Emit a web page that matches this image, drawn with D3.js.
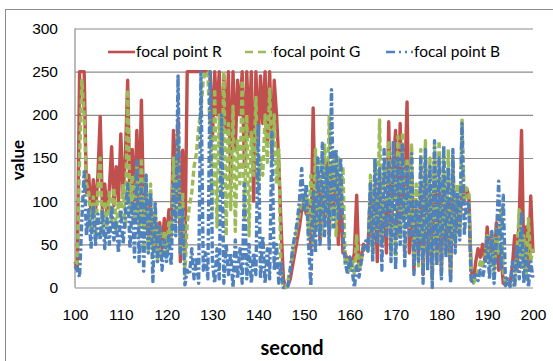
<!DOCTYPE html>
<html>
<head>
<meta charset="utf-8">
<script src="https://cdn.jsdelivr.net/npm/d3@7"></script>
<style>
  body { margin: 0; background: #fff; }
  svg { display: block; font-family: Lato, "Open Sans", sans-serif; }
</style>
</head>
<body>
<div id="chart"></div>
<script>
// seconds sampled every 0.5 s from 100 to 200
const seconds = d3.range(100, 200.25, 0.5);

const focalR = [
  30, 22, 250, 250, 250, 110, 130, 85, 125, 90,
  130, 198, 90, 120, 85, 115, 163, 95, 140, 100,
  178, 110, 150, 240, 100, 160, 95, 182, 90, 217,
  80, 120, 60, 95, 50, 85, 40, 75, 45, 80,
  55, 90, 60, 182, 100, 195, 30, 159, 40, 250,
  250, 250, 250, 250, 250, 250, 250, 250, 250, 250,
  170, 250, 200, 250, 150, 245, 180, 250, 120, 250,
  160, 240, 200, 250, 140, 250, 175, 250, 100, 250,
  165, 245, 190, 250, 170, 250, 150, 240, 200, 145,
  70, 10, 0, 2, 10, 25, 40, 55, 70, 90,
  100, 85, 95, 45, 208, 70, 130, 55, 120, 80,
  145, 60, 135, 90, 130, 50, 125, 40, 40, 30,
  35, 25, 40, 107, 20, 35, 50, 45, 50, 110,
  45, 120, 30, 130, 60, 100, 40, 192, 50, 140,
  182, 60, 190, 80, 120, 215, 40, 130, 20, 90,
  40, 120, 15, 140, 30, 110, 10, 150, 35, 120,
  20, 130, 45, 100, 10, 140, 55, 100, 70, 115,
  100, 115, 105, 20, 8, 30, 45, 35, 50, 30,
  70, 40, 60, 30, 75, 20, 40, 5, 3, 5,
  3, 25, 60, 20, 80, 182, 30, 70, 20, 106,
  40
];

const focalG = [
  30, 28, 150, 240, 200, 120, 110, 65, 105, 60,
  115, 150, 60, 100, 70, 110, 75, 115, 65, 100,
  80, 120, 70, 229, 90, 130, 80, 140, 60, 150,
  50, 130, 40, 120, 35, 90, 30, 70, 35, 65,
  40, 75, 50, 150, 80, 180, 40, 110, 15, 75,
  95, 110, 140, 155, 185, 205, 240, 250, 250, 180,
  90, 230, 70, 200, 110, 250, 60, 190, 90, 210,
  65, 170, 120, 240, 80, 200, 60, 180, 130, 220,
  110, 150, 130, 200, 145, 230, 150, 200, 120, 160,
  10, 0, 0, 8, 22, 38, 55, 70, 85, 110,
  95, 120, 60, 130, 50, 160, 70, 150, 60, 165,
  80, 198, 70, 160, 60, 150, 90, 140, 25, 35,
  20, 30, 15, 60, 20, 30, 45, 50, 40, 130,
  40, 150, 60, 194, 50, 140, 70, 170, 40, 160,
  30, 175, 60, 180, 40, 150, 70, 165, 30, 120,
  25, 160, 20, 170, 40, 150, 10, 165, 30, 170,
  15, 155, 40, 160, 20, 150, 50, 120, 60, 196,
  100, 115, 110, 15, 5, 10, 20, 30, 25, 35,
  60, 20, 65, 15, 70, 40, 90, 20, 5, 3,
  3, 3, 3, 40, 90, 20, 60, 10, 80, 30,
  45
];

const focalB = [
  25, 20, 12, 80, 134, 60, 90, 45, 95, 50,
  85, 55, 90, 45, 80, 50, 95, 55, 75, 40,
  90, 50, 85, 120, 45, 100, 35, 147, 30, 120,
  19, 130, 40, 110, 7, 100, 30, 70, 20, 55,
  30, 60, 25, 120, 60, 245, 40, 90, 3, 20,
  15, 45, 10, 35, 5, 250, 20, 40, 10, 250,
  30, 5, 45, 10, 200, 5, 50, 15, 40, 0,
  55, 10, 45, 5, 120, 10, 50, 5, 40, 15,
  190, 10, 60, 5, 45, 10, 180, 20, 50, 5,
  30, 0, 0, 2, 20, 45, 60, 75, 100, 138,
  90, 120, 50, 2, 110, 40, 150, 50, 167, 60,
  140, 45, 229, 70, 160, 80, 150, 60, 30, 15,
  35, 20, 0, 25, 12, 30, 45, 54, 42, 120,
  30, 150, 50, 140, 20, 160, 60, 145, 30, 170,
  20, 150, 50, 165, 25, 140, 60, 155, 15, 100,
  30, 150, 5, 160, 20, 140, 0, 170, 25, 150,
  10, 165, 35, 140, 5, 160, 40, 110, 55, 190,
  60, 100, 95, 5, 10, 15, 8, 20, 12, 25,
  60, 10, 65, 5, 55, 123, 20, 107, 2, 10,
  1, 30, 0, 50, 10, 88, 5, 45, 0, 30,
  10
];

const seriesNames = ['focal point R', 'focal point G', 'focal point B'];
const xTicks = [100, 110, 120, 130, 140, 150, 160, 170, 180, 190, 200];
const yTicks = [0, 50, 100, 150, 200, 250, 300];

const width = 553, height = 361;
const plot = {left: 75, right: 533, top: 28.5, bottom: 287.5};

const svg = d3.select('#chart').append('svg')
  .attr('width', width)
  .attr('height', height);

svg.append('rect')
  .attr('width', width).attr('height', height)
  .attr('fill', '#fff');

// outer chart frame
svg.append('rect')
  .attr('x', 5.5).attr('y', 9.5)
  .attr('width', 600).attr('height', 400)
  .attr('fill', 'none')
  .attr('stroke', '#8c8c8c');

const x = d3.scaleLinear().domain([100, 200]).range([plot.left, plot.right]);
const y = d3.scaleLinear().domain([0, 300]).range([plot.bottom, plot.top]);

// gridlines + y labels
const yAxis = svg.append('g')
  .attr('transform', 'translate(' + plot.left + ',0)')
  .call(d3.axisLeft(y).tickValues(yTicks)
    .tickSize(-(plot.right - plot.left)).tickPadding(17));
yAxis.select('.domain').remove();
yAxis.selectAll('line').attr('stroke', '#8c8c8c').attr('stroke-width', 1.2);
yAxis.selectAll('text')
  .attr('fill', '#000').style('font-size', '15.5px');

const xAxis = svg.append('g')
  .attr('transform', 'translate(0,' + plot.bottom + ')')
  .call(d3.axisBottom(x).tickValues(xTicks).tickSize(0).tickPadding(21));
xAxis.select('.domain').remove();
xAxis.selectAll('text')
  .attr('fill', '#000').style('font-size', '15.5px');

svg.append('line')
  .attr('x1', plot.left).attr('x2', plot.left)
  .attr('y1', plot.top).attr('y2', plot.bottom)
  .attr('stroke', '#8c8c8c').attr('stroke-width', 1.2);

const series = [
  {name: seriesNames[0], values: focalR, color: '#C0504D', dash: null},
  {name: seriesNames[1], values: focalG, color: '#9BBB59', dash: '6,3'},
  {name: seriesNames[2], values: focalB, color: '#4F81BD', dash: '7,2.5,2.5,2.5'}
];

const line = d3.line()
  .x((d, i) => x(seconds[i]))
  .y(d => y(d));

svg.append('g').selectAll('path')
  .data(series)
  .enter().append('path')
  .attr('d', d => line(d.values))
  .attr('fill', 'none')
  .attr('stroke', d => d.color)
  .attr('stroke-width', 3.4)
  .attr('stroke-linejoin', 'round')
  .attr('stroke-dasharray', d => d.dash);

// legend
const legendX = [108, 245, 386];
const legend = svg.append('g').selectAll('g')
  .data(series)
  .enter().append('g')
  .attr('transform', (d, i) => 'translate(' + legendX[i] + ',52)');

legend.append('line')
  .attr('x1', 0).attr('x2', 27)
  .attr('stroke', d => d.color)
  .attr('stroke-width', 2.6)
  .attr('stroke-dasharray', d => d.dash === null ? null : (d.dash === '6,3' ? '8,5' : '9,4,2,4,2,4'));

legend.append('text')
  .attr('x', 28)
  .attr('dy', '0.35em')
  .style('font-size', '15.5px')
  .text(d => d.name);

svg.append('text')
  .attr('transform', 'translate(24,160) rotate(-90)')
  .attr('text-anchor', 'middle')
  .style('font-size', '17px')
  .style('font-weight', 'bold')
  .text('value');

svg.append('text')
  .attr('x', 292).attr('y', 355)
  .attr('text-anchor', 'middle')
  .style('font-size', '20px')
  .style('font-weight', 'bold')
  .text('second');
</script>
</body>
</html>
